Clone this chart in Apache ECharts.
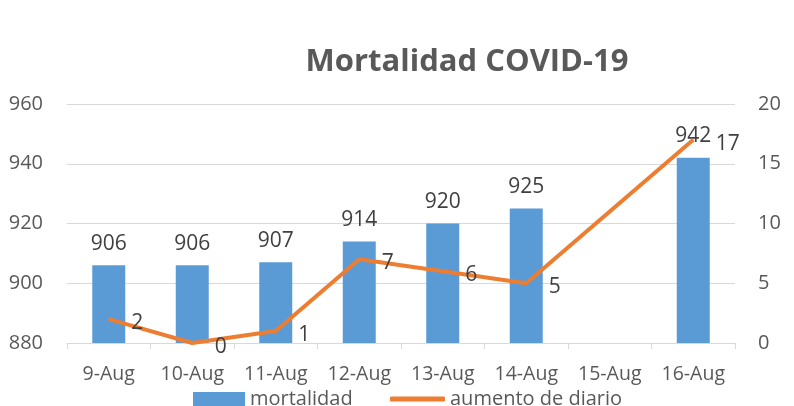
<!DOCTYPE html>
<html>
<head>
<meta charset="utf-8">
<script src="https://cdn.jsdelivr.net/npm/echarts@6/dist/echarts.min.js"></script>
<style>
  html, body { margin: 0; padding: 0; background: #fff; }
  #chart { width: 794px; height: 406px; }
</style>
</head>
<body>
<div id="chart"></div>
<script>
var categories = ['9-Aug', '10-Aug', '11-Aug', '12-Aug', '13-Aug', '14-Aug', '15-Aug', '16-Aug'];
var mortalidad = [906, 906, 907, 914, 920, 925, null, 942];
var aumento = [2, 0, 1, 7, 6, 5, null, 17];
var leftTicks = [880, 960, 20];   // min, max, step
var rightTicks = [0, 20, 5];

var fontFam = '"Open Sans", "Liberation Sans", sans-serif';
var txtGray = '#595959';

var myChart = echarts.init(document.getElementById('chart'));

var option = {
    backgroundColor: '#fff',
    animation: false,
    textStyle: { fontFamily: fontFam },
    title: {
        text: 'Mortalidad COVID-19',
        left: 462,
        top: 42,
        textAlign: 'center',
        textStyle: { fontSize: 31, fontWeight: 'bold', color: txtGray, fontFamily: fontFam }
    },
    grid: { left: 67, right: 59, top: 104, bottom: 63 },
    legend: [
        {
            data: ['mortalidad'],
            left: 188, top: 384,
            itemWidth: 52, itemHeight: 14, itemGap: 5,
            icon: 'rect',
            textStyle: { fontSize: 20, color: txtGray, fontFamily: fontFam }
        },
        {
            data: ['aumento de diario'],
            left: 385, top: 384,
            itemWidth: 55, itemHeight: 5, itemGap: 5,
            icon: 'roundRect',
            textStyle: { fontSize: 20, color: txtGray, fontFamily: fontFam }
        }
    ],
    xAxis: {
        type: 'category',
        data: categories,
        axisLine: { lineStyle: { color: '#d9d9d9', width: 1 } },
        axisTick: { show: true, interval: 0, length: 6, lineStyle: { color: '#d9d9d9' } },
        axisLabel: { fontSize: 19.5, color: txtGray, margin: 21, interval: 0, hideOverlap: false }
    },
    yAxis: [
        {
            type: 'value',
            min: leftTicks[0], max: leftTicks[1], interval: leftTicks[2],
            axisLine: { show: false },
            axisTick: { show: false },
            axisLabel: { fontSize: 20, color: txtGray, margin: 24 },
            splitLine: { lineStyle: { color: '#d9d9d9', width: 1 } }
        },
        {
            type: 'value',
            min: rightTicks[0], max: rightTicks[1], interval: rightTicks[2],
            axisLine: { show: false },
            axisTick: { show: false },
            axisLabel: { fontSize: 20, color: txtGray, margin: 23 },
            splitLine: { show: false }
        }
    ],
    series: [
        {
            name: 'mortalidad',
            type: 'bar',
            data: mortalidad,
            barWidth: 33,
            itemStyle: { color: '#5b9bd5' },
            label: {
                show: true, position: 'top', distance: 11,
                fontSize: 21, color: '#404040', fontFamily: fontFam
            }
        },
        {
            name: 'aumento de diario',
            type: 'line',
            yAxisIndex: 1,
            data: aumento,
            connectNulls: true,
            symbol: 'circle',
            symbolSize: 1,
            itemStyle: { color: '#ed7d31' },
            lineStyle: { color: '#ed7d31', width: 4 },
            label: {
                show: true, position: 'right', distance: 22, offset: [0, 4],
                fontSize: 21, color: '#404040', fontFamily: fontFam
            }
        }
    ]
};

myChart.setOption(option);
</script>
</body>
</html>
